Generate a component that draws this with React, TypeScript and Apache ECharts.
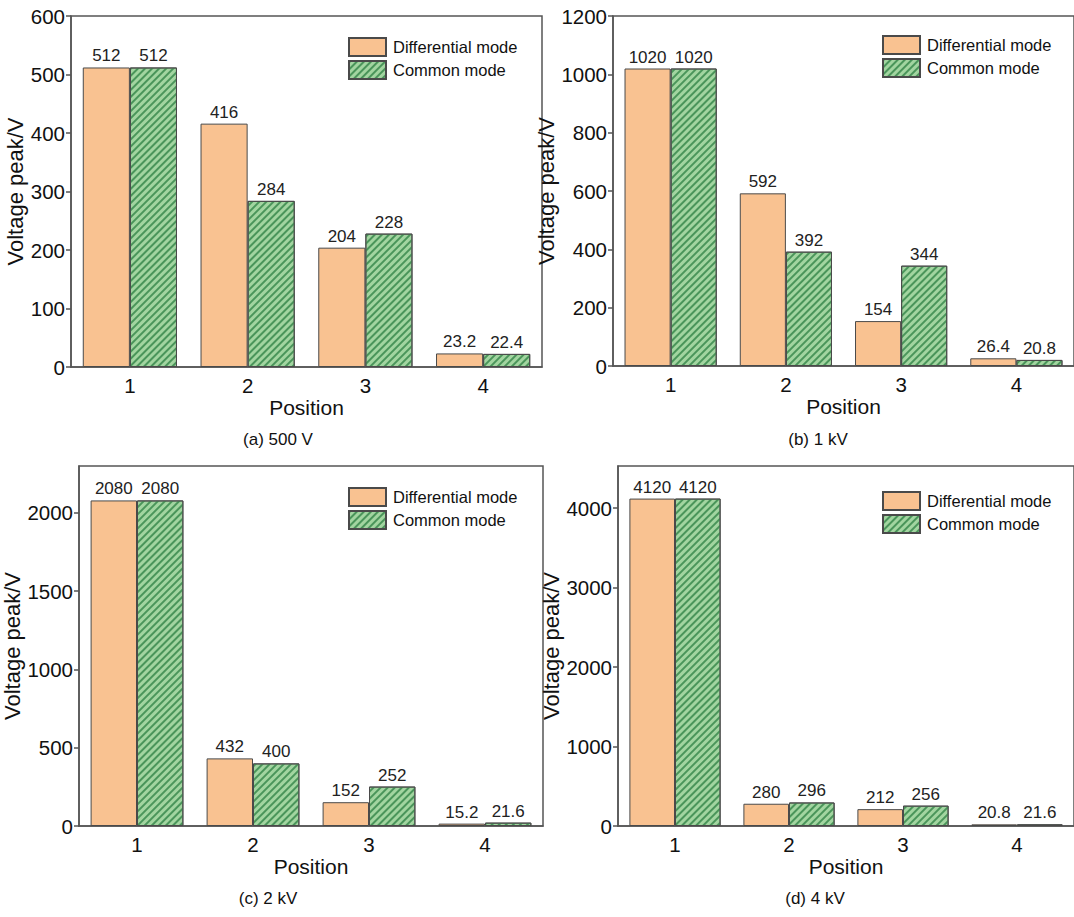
import React, { useEffect, useRef } from "react";
import * as echarts from "echarts";

// Measurement positions along the line
const positions = ["1", "2", "3", "4"];

// Peak voltages (V) for each injected surge level
const diff500 = [512, 416, 204, 23.2];
const common500 = [512, 284, 228, 22.4];
const diff1k = [1020, 592, 154, 26.4];
const common1k = [1020, 392, 344, 20.8];
const diff2k = [2080, 432, 152, 15.2];
const common2k = [2080, 400, 252, 21.6];
const diff4k = [4120, 280, 212, 20.8];
const common4k = [4120, 296, 256, 21.6];

// Y-axis tick labels per panel
const ticks500 = [0, 100, 200, 300, 400, 500, 600];
const ticks1k = [0, 200, 400, 600, 800, 1000, 1200];
const ticks2k = [0, 500, 1000, 1500, 2000];
const ticks4k = [0, 1000, 2000, 3000, 4000];

const captions = ["(a) 500 V", "(b) 1 kV", "(c) 2 kV", "(d) 4 kV"];

const FONT = "Liberation Sans, Arial, sans-serif";
const AXIS_COLOR = "#555";
const ORANGE = "#f9c291";
const GREEN = "#a2d5a0";
const STRIPE = "#4a955a";
const BORDER = "#4a4a4a";

const panels = [
  { left: 71, top: 16, width: 471, height: 351, max: 600, ticks: ticks500, yGap: 42, diff: diff500, common: common500, legend: [348, 37] },
  { left: 613, top: 16, width: 472, height: 350, max: 1200, ticks: ticks1k, yGap: 49, diff: diff1k, common: common1k, legend: [882, 35] },
  { left: 79, top: 466, width: 464, height: 360, max: 2300, ticks: ticks2k, yGap: 50, diff: diff2k, common: common2k, legend: [348, 487] },
  { left: 618, top: 466, width: 464, height: 360, max: 4530, ticks: ticks4k, yGap: 54, diff: diff4k, common: common4k, legend: [882, 491] },
];

const captionPos = [
  [278, 439],
  [818, 439],
  [268, 898],
  [815, 898],
];

export default function App() {
  const ref = useRef<HTMLDivElement>(null);

  useEffect(() => {
    document.body.style.margin = "0";
    if (!ref.current) return;
    const chart = echarts.init(ref.current, undefined, { renderer: "svg" });

    const labelStyle = {
      show: true,
      position: "top" as const,
      distance: 3,
      fontSize: 17,
      color: "#222",
      fontFamily: FONT,
    };

    const option: any = {
      animation: false,
      backgroundColor: "#fff",
      textStyle: { fontFamily: FONT },
      grid: panels.map((p) => ({
        left: p.left,
        top: p.top,
        width: p.width,
        height: p.height,
        show: true,
        borderColor: AXIS_COLOR,
        borderWidth: 1.5,
        containLabel: false,
      })),
      xAxis: panels.map((p, i) => ({
        type: "category",
        gridIndex: i,
        data: positions,
        axisLine: { lineStyle: { color: AXIS_COLOR, width: 1.5 } },
        axisTick: { show: false },
        axisLabel: { fontSize: 20.5, color: "#111", margin: 8, fontFamily: FONT },
        name: "Position",
        nameLocation: "middle",
        nameGap: 30,
        nameTextStyle: { fontSize: 21, color: "#111", fontFamily: FONT },
        splitLine: { show: false },
      })),
      yAxis: panels.map((p, i) => ({
        type: "value",
        gridIndex: i,
        min: 0,
        max: p.max,
        axisLine: { show: true, lineStyle: { color: AXIS_COLOR, width: 1.5 } },
        axisTick: { show: true, inside: false, length: 5, customValues: p.ticks, lineStyle: { color: AXIS_COLOR, width: 1.5 } },
        axisLabel: {
          fontSize: 20.5,
          color: "#111",
          margin: 6,
          customValues: p.ticks,
          fontFamily: FONT,
          formatter: (v: number) => String(v),
        },
        splitLine: { show: false },
        name: "Voltage peak/V",
        nameLocation: "middle",
        nameGap: p.yGap,
        nameTextStyle: { fontSize: 22, color: "#111", fontFamily: FONT },
      })),
      legend: panels.map((p) => ({
        orient: "vertical",
        left: p.legend[0],
        top: p.legend[1],
        padding: 0,
        itemWidth: 37,
        itemHeight: 18,
        itemGap: 3,
        icon: "rect",
        data: ["Differential mode", "Common mode"],
        textStyle: { fontSize: 16.5, color: "#111", fontFamily: FONT, padding: [0, 0, 0, 2] },
        selectedMode: false,
      })),
      series: panels.flatMap((p, i) => [
        {
          type: "bar",
          name: "Differential mode",
          xAxisIndex: i,
          yAxisIndex: i,
          data: p.diff,
          barGap: "0%",
          barCategoryGap: "20%",
          itemStyle: { color: ORANGE, borderColor: BORDER, borderWidth: 1 },
          label: labelStyle,
        },
        {
          type: "bar",
          name: "Common mode",
          xAxisIndex: i,
          yAxisIndex: i,
          data: p.common,
          barGap: "0%",
          barCategoryGap: "20%",
          itemStyle: {
            color: GREEN,
            borderColor: BORDER,
            borderWidth: 1,
            decal: {
              symbol: "rect",
              symbolSize: 1,
              color: STRIPE,
              dashArrayX: [1, 0],
              dashArrayY: [1.2, 2.8],
              rotation: -Math.PI / 4,
            },
          },
          label: labelStyle,
        },
      ]),
      graphic: captions.map((c, i) => ({
        type: "text",
        x: captionPos[i][0],
        y: captionPos[i][1],
        style: {
          text: c,
          fontSize: 17,
          fill: "#111",
          fontFamily: FONT,
          textAlign: "center",
          textVerticalAlign: "middle",
        },
      })),
    };

    chart.setOption(option);
    return () => chart.dispose();
  }, []);

  return <div ref={ref} style={{ width: 1074, height: 917 }} />;
}
